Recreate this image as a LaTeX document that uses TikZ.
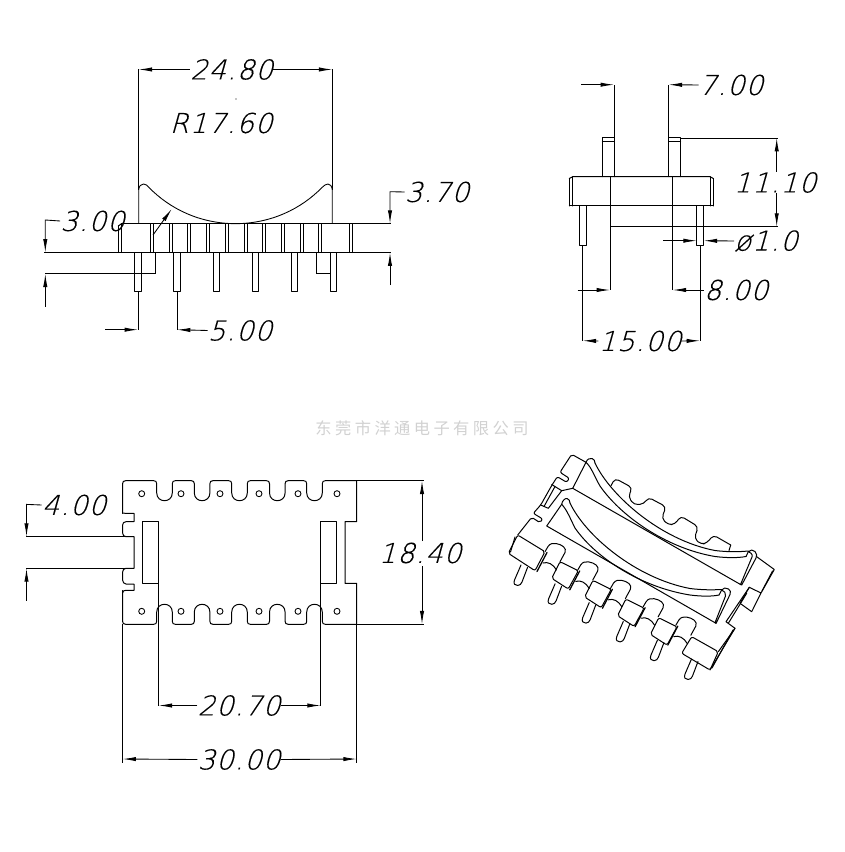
\documentclass[tikz,border=0pt]{standalone}
\usepackage{fontspec}
\usetikzlibrary{arrows.meta}
\newfontfamily\dimf{DejaVu Sans ExtraLight}[FakeSlant=0.28,LetterSpace=4,FakeBold=0.25]
\newfontfamily\cjkf{Noto Sans CJK SC}[LetterSpace=21]
\tikzset{
  line/.style={line width=0.75pt,black,line join=round,line cap=round},
  dimtip/.style={line width=0.65pt,black,-{Latex[length=10pt,width=3.2pt]}},
  thin line/.style={line width=0.65pt,black},
  dimtext/.style={inner sep=0pt,font=\dimf\fontsize{20.5}{20.5}\selectfont},
  wm/.style={inner sep=0pt,text=black!18,font=\cjkf\fontsize{12.2}{12.2}\selectfont}
}
\newcommand{\topnotch}[2]{-- (#1-3,#2) .. controls (#1-1,#2) and (#1,#2+1) .. (#1,#2+3) -- (#1,492.9) .. controls (#1,503.3) and (#1+15.6,503.3) .. (#1+15.6,492.9) -- (#1+15.6,#2+3) .. controls (#1+15.6,#2+1) and (#1+16.6,#2) .. (#1+18.6,#2)}
\newcommand{\botnotch}[2]{-- (#1-3,#2) .. controls (#1-1,#2) and (#1,#2-1) .. (#1,#2-3) -- (#1,612.1) .. controls (#1,601.7) and (#1+15.6,601.7) .. (#1+15.6,612.1) -- (#1+15.6,#2-3) .. controls (#1+15.6,#2-1) and (#1+16.6,#2) .. (#1+18.6,#2)}
\begin{document}
\begin{tikzpicture}[x=0.75pt,y=-0.75pt]
\useasboundingbox (0,0) rectangle (844,852);
%% ---------- front view
\draw[line] (121.5,223.7) -- (352.7,223.7);
\draw[line] (118.3,226) -- (118.3,252.5);
\draw[line] (118.3,226) -- (121.5,223.7);
\draw[line] (121.5,223.7) -- (121.5,252.5);
\draw[line] (349.3,223.7) -- (349.3,252.5) (352.7,223.7) -- (352.7,252.5);
\foreach \a in {150,169,187.3,206.3,225.3,244,262.7,281.3,300,318.7}
  \draw[line] (\a,223.7) -- (\a,252.5) (\a+3,223.7) -- (\a+3,252.5);
\foreach \a in {134.7,173.7,213,252,291.3,330.3}
  \draw[line] (\a,252.5) rectangle (\a+6.5,291.7);
\draw[thin line] (138.7,223.7) -- (138.7,190) .. controls (139,186) and (141,184) .. (143.5,184) .. controls (146,184) and (147,185.5) .. (149,187.5)
  .. controls (170,209) and (200,223.5) .. (235.5,223.7)
  .. controls (271,223.5) and (301,209) .. (322,187.5) .. controls (324,185.5) and (326,184) .. (328,184) .. controls (330,184) and (332,186) .. (332.3,190) -- (332.3,223.7);
\draw[thin line] (44,252.5) -- (391,252.5) (352.7,223.7) -- (391,223.7);
\draw[thin line] (155,252.5) -- (155,273.7) -- (45,273.7);
\draw[thin line] (316.7,252.5) -- (316.7,273.7) -- (330.3,273.7);
\draw[thin line] (138.7,190) -- (138.7,69.5) (332.3,190) -- (332.3,69.5);
\node[dimtext] (d2480) at (231.5,69.5) {24.80};
\draw[dimtip] (d2480.west) -- (138.7,69.5);
\draw[dimtip] (d2480.east) -- (332.3,69.5);
\fill (236,99) coordinate (dotc) circle (0.7);
\node[dimtext] (r1760) at (221,123) {R17.60};
\draw[dimtip] (153,235) -- (171.7,209);
\node[dimtext] (d300) at (92.5,221) {3.00};
\draw[dimtip] (d300.west) -- (45.3,220) -- (45.3,252.5);
\draw[dimtip] (45.3,306.7) -- (45.3,273.7);
\node[dimtext] (d370) at (437,192) {3.70};
\draw[dimtip] (d370.west) -- (390,191.7) -- (390,223.7);
\draw[dimtip] (390,285) -- (390,252.5);
\draw[thin line] (138,291.7) -- (138,330) (177,291.7) -- (177,330);
\node[dimtext] (d500) at (240,330.5) {5.00};
\draw[dimtip] (105,329.7) -- (138,329.7);
\draw[dimtip] (d500.west) -- (177,329.7);
%% ---------- side view
\draw[line] (569.3,178.5) -- (569.3,206) (572.7,176.7) -- (572.7,206) (710,176.7) -- (710,206) (713.3,178.5) -- (713.3,206);
\draw[line] (569.3,178.5) -- (572.7,176.7) -- (710,176.7) -- (713.3,178.5);
\draw[line] (569.3,206) -- (713.3,206);
\draw[line] (602.3,176.7) -- (602.3,138) -- (614,138) -- (614,176.7) (602.3,141.7) -- (614,141.7);
\draw[line] (668.7,176.7) -- (668.7,138) -- (680.7,138) -- (680.7,176.7) (668.7,141.7) -- (680.7,141.7);
\draw[line] (579.7,206) rectangle (586.3,245) (696.7,206) rectangle (703.7,245);
\draw[thin line] (610,176.7) -- (610,290) (672.7,176.7) -- (672.7,290);
\draw[thin line] (614,138) -- (614,84.7) (668.7,138) -- (668.7,84.7);
\draw[thin line] (680.7,138) -- (777.7,138) (610,226.7) -- (777.7,226.7);
\draw[thin line] (582.7,245) -- (582.7,340.7) (700,245) -- (700,340.7);
\node[dimtext] (d700) at (731,85) {7.00};
\draw[dimtip] (581.3,84.7) -- (614,84.7);
\draw[dimtip] (d700.west) -- (668.7,84.7);
\node[dimtext] (d1110) at (775,182.5) {11.10};
\draw[dimtip] (776.7,171.7) -- (776.7,138);
\draw[dimtip] (776.7,193) -- (776.7,226.7);
\node[dimtext] (d10) at (766,241) {ø1.0};
\draw[dimtip] (663.3,240.7) -- (696.7,240.7);
\draw[dimtip] (d10.west) -- (703.7,240.7);
\node[dimtext] (d800) at (736,290) {8.00};
\draw[dimtip] (577.7,290) -- (610,290);
\draw[dimtip] (d800.west) -- (672.7,290);
\node[dimtext] (d1500) at (640,341) {15.00};
\draw[dimtip] (d1500.west) -- (582.7,340.7);
\draw[dimtip] (d1500.east) -- (700,340.7);
%% ---------- watermark
\node[wm] (mark) at (422,428) {东莞市洋通电子有限公司};
%% ---------- plan view
\draw[line] (122.6,513.3) -- (122.6,483.7) .. controls (122.6,481.7) and (123.6,480.7) .. (125.6,480.7)
  \topnotch{156.7}{480.7} \topnotch{194.3}{480.7} \topnotch{231.7}{480.7} \topnotch{269.5}{480.7} \topnotch{306.7}{480.7} -- (356.7,480.7) -- (356.7,521.7) -- (345,521.7) -- (345,583.3) -- (356.7,583.3) -- (356.7,624.3);
\draw[line] (122.6,590.5) -- (122.6,621.3) .. controls (122.6,623.3) and (123.6,624.3) .. (125.6,624.3)
  \botnotch{156.7}{624.3} \botnotch{194.3}{624.3} \botnotch{231.7}{624.3} \botnotch{269.5}{624.3} \botnotch{306.7}{624.3} -- (356.7,624.3);
\draw[line] (122.6,513.3) .. controls (122.6,512.5) and (123.6,513.3) .. (125,513.3) -- (134,513.3) -- (134,521.7) -- (126,521.7) .. controls (124,521.7) and (122.6,523) .. (122.6,525) -- (122.6,533) .. controls (122.6,535) and (124,536.7) .. (126,536.7) -- (134,536.7) -- (134,568.3) -- (126,568.3) .. controls (124,568.3) and (122.6,570) .. (122.6,572) -- (122.6,580) .. controls (122.6,582) and (124,584) .. (126,584) -- (134,584) -- (134,590.3) -- (126,590.3) .. controls (124,590.3) and (122.6,591) .. (122.6,593);
\draw[line] (142.7,521.7) rectangle (158.7,583.3) (320.7,521.7) rectangle (336.7,583.3);
\foreach \x in {141.7,181,220,259,298,337}
  \draw[thin line] (\x,493.7) circle (3) (\x,611.3) circle (3);
\draw[thin line] (26,536.7) -- (134,536.7) (26,568.3) -- (134,568.3);
\draw[thin line] (356.7,480.7) -- (424,480.7) (356.7,624.3) -- (424,624.3);
\draw[thin line] (158.7,583.3) -- (158.7,706) (320.7,583.3) -- (320.7,706);
\draw[thin line] (122.6,624.3) -- (122.6,763) (356.7,624.3) -- (356.7,763);
\node[dimtext] (d400) at (74,505) {4.00};
\draw[dimtip] (d400.west) -- (26.5,504.4) -- (26.5,536.7);
\draw[dimtip] (26.5,600.7) -- (26.5,568.3);
\node[dimtext] (d1840) at (420,553) {18.40};
\draw[dimtip] (422,541) -- (422,480.7);
\draw[dimtip] (422,566) -- (422,624.3);
\node[dimtext] (d2070) at (239,705.5) {20.70};
\draw[dimtip] (d2070.west) -- (158.7,705.5);
\draw[dimtip] (d2070.east) -- (320.7,705.5);
\node[dimtext] (d3000) at (239,759.5) {30.00};
\draw[dimtip] (d3000.west) -- (122.6,759);
\draw[dimtip] (d3000.east) -- (356.7,759);
%% ---------- isometric view: upper left outline
\draw[line,rounded corners=1.5] (517.7,535) -- (531.7,517.3) -- (540,522.7) -- (542.7,519) -- (533.3,513.3) -- (540.7,505) -- (551.7,485.5) -- (557.3,476.7) -- (566.7,482.3) -- (569.3,478.3) -- (560,472.3) -- (571.7,454.3) -- (586,462.3);
\draw[line] (551.7,484.5) -- (561.7,490.7) -- (548.3,508.3) -- (540.7,505);
\draw[line] (555,486.5) -- (544,506.5);
\draw[line] (561.7,490.7) -- (572.7,488.3);
%% upper rib and floor
\draw[line] (572.7,488.3) -- (586,462.3) .. controls (587,459) and (590,458) .. (592,458.5) .. controls (594,459) and (595,461) .. (595,463);
\draw[line] (572.7,488.3) -- (740.5,584.5);
\draw[line] (595,463) .. controls (610,495) and (660,540) .. (715,550.5) .. controls (727,552) and (738,552) .. (748.3,551);
\draw[line] (586,462.3) .. controls (592,468) and (594,476) .. (600,486) .. controls (620,515) and (665,548) .. (715,556.5) .. controls (727,558) and (738,558) .. (746,556.5);
\draw[line] (748.3,551.7) .. controls (750,549.5) and (753,549.5) .. (755,551.5) .. controls (757,553.5) and (757,556) .. (756,558) -- (741.7,585) -- (740.5,584.5) -- (752,557) .. controls (753,554) and (750,552) .. (748.3,551.7);
\draw[line] (746,556.5) -- (748.3,551.7);
%% comb
\draw[line,rounded corners=3] (611,485.7) -- (615,478.3) -- (632.3,487.7) -- (628.3,496.7) -- (634,504.8) -- (644,504) -- (648.3,497.3) -- (666,506.7) -- (661.7,518.3) -- (668,524.8) -- (675,524.3) -- (680.7,516) -- (698.3,526.7) -- (694.3,538.3) -- (701,544.5) -- (707,543) -- (713.3,535) -- (730.7,545);
\draw[line] (730.7,545) -- (729,550.5);
%% lower rib and floor
\draw[line] (561.7,504.3) -- (546.7,526) -- (715,622.7);
\draw[line] (561.7,504.3) .. controls (562,501) and (565,498) .. (567,498.5) .. controls (569,499) and (570,501) .. (570,503);
\draw[line] (570,503) .. controls (585,535) and (635,578) .. (690,588.5) .. controls (702,590) and (712,590) .. (721.7,589.5);
\draw[line] (561.7,504.3) .. controls (567,510) and (570,518) .. (575,528) .. controls (595,557) and (640,587) .. (690,595) .. controls (702,596.5) and (712,596.5) .. (719,595);
\draw[line] (721.7,590) .. controls (723,587.5) and (726,587.5) .. (728.5,589) .. controls (730.5,590.5) and (731,592) .. (730,594.5) -- (716,623.5) -- (715,622.7) -- (725.5,596) .. controls (726.5,593) and (724,591) .. (721.7,590);
\draw[line] (719,595) -- (721.7,590);
%% right end
\draw[line] (756.7,556.7) -- (774.3,569.5) -- (761,593) -- (751.7,611.7) -- (740,603.3) -- (749.3,587.3) -- (761,593);
\draw[line] (772.5,571) -- (762,591);
\draw[line] (749.3,587.3) -- (726,621.7) -- (735,628.3) -- (710,670);
\draw[line] (746.7,593.3) -- (728.3,623.3);
\draw[line] (733,630) -- (712,668);
%% blocks and bumps
\draw[line,rounded corners=1.5] (517.7,535) -- (508.3,553.3) -- (535,570.7) -- (545,551.7) -- cycle;
\draw[line] (515,537) -- (510.5,552);
\draw[line,rounded corners=1.5] (691.7,636.7) -- (681.7,653.3) -- (710,670) -- (718.3,651.7) -- cycle;
\draw[line] (718.3,651.7) -- (735,628.3);
\foreach \k in {1,2,3,4} {
  \begin{scope}[shift={({(\k-1)*32.9},{(\k-1)*18.7})}]
    \draw[line,rounded corners=1.5] (560,561.7) -- (551.7,578.3) -- (568.3,589) -- (578.3,570.7) -- cycle;
  \end{scope}
}
\foreach \k in {0,1,2,3,4} {
  \begin{scope}[shift={({\k*32.7},{\k*18.4})}]
    \draw[line] (545,551.7) -- (548,546.5) .. controls (550,543.5) and (553,543) .. (556,543.5) .. controls (562,544.5) and (567,548) .. (565,552.5) -- (560,561.7);
    \draw[line,line width=0.95pt] (547,552.5) -- (537,571.5);
    \draw[line] (543,563) .. controls (548,561.5) and (553,564) .. (556.5,570);
  \end{scope}
}
%% pins
\foreach \k in {0,1,2,3,4,5} {
  \begin{scope}[shift={({\k*34.1},{\k*18.8})}]
    \draw[line] (521,565) -- (514.5,580) .. controls (513,584) and (515,585.5) .. (517.7,585.5) .. controls (520,585.5) and (521,584) .. (522,582) -- (527.5,567.5);
  \end{scope}
}
\end{tikzpicture}
\end{document}
